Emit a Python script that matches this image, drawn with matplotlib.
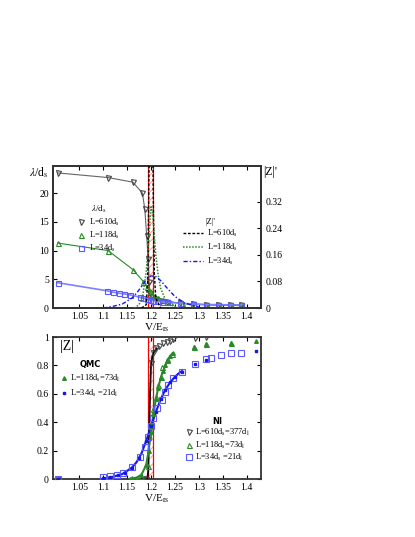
import numpy as np
import matplotlib
matplotlib.use("Agg")
import matplotlib.pyplot as plt
from matplotlib.lines import Line2D

plt.rcParams['font.family'] = ['Liberation Serif', 'DejaVu Serif']
plt.rcParams['mathtext.fontset'] = 'stix'
plt.rcParams['axes.linewidth'] = 1.3
plt.rcParams['axes.edgecolor'] = '#333333'
plt.rcParams['xtick.direction'] = 'in'
plt.rcParams['ytick.direction'] = 'in'
plt.rcParams['hatch.linewidth'] = 0.6

# ---- top panel: lambda/d_s (left axis) ----
v_lam610 = [1.005, 1.11, 1.162, 1.182, 1.187, 1.191, 1.194, 1.196, 1.198, 1.2, 1.21, 1.22, 1.233,
            1.26, 1.288, 1.316, 1.34, 1.365, 1.389]
lam610 = [23.5, 22.7, 21.9, 20.0, 17.2, 12.5, 8.5, 4.5, 2.6, 2.0, 1.6, 1.3, 1.1,
          0.85, 0.7, 0.6, 0.55, 0.55, 0.5]
v_lam118 = [1.005, 1.11, 1.162, 1.184, 1.191, 1.197, 1.203, 1.208, 1.215, 1.225, 1.24,
            1.265, 1.29, 1.315, 1.34, 1.365, 1.39]
lam118 = [11.3, 10.0, 6.7, 4.6, 3.7, 3.0, 2.4, 2.0, 1.7, 1.4, 1.1,
          0.8, 0.65, 0.55, 0.5, 0.45, 0.4]
v_lam34 = [1.005, 1.108, 1.12, 1.132, 1.144, 1.156, 1.176, 1.184, 1.191, 1.198, 1.205, 1.212,
           1.222, 1.233, 1.26, 1.288, 1.316, 1.34, 1.365, 1.389]
lam34 = [4.4, 3.0, 2.76, 2.6, 2.45, 2.3, 1.9, 1.7, 1.6, 1.4, 1.3, 1.2,
         1.1, 1.0, 0.85, 0.7, 0.6, 0.6, 0.55, 0.55]

# ---- top panel: |Z|' (right axis) ----
v_dz610 = [1.18, 1.19, 1.193, 1.195, 1.197, 1.2, 1.203, 1.205, 1.207, 1.21, 1.22]
dz610 = [0.0, 0.01, 0.08, 0.3, 0.6, 0.7, 0.6, 0.3, 0.1, 0.03, 0.0]
v_dz118 = [1.165, 1.175, 1.183, 1.19, 1.195, 1.198, 1.2, 1.203, 1.206, 1.21, 1.215, 1.22,
           1.23, 1.24, 1.26]
dz118 = [0.0, 0.01, 0.04, 0.11, 0.2, 0.27, 0.305, 0.29, 0.24, 0.16, 0.1, 0.06,
         0.025, 0.01, 0.0]
v_dz34 = [1.1, 1.12, 1.14, 1.16, 1.17, 1.18, 1.19, 1.2, 1.21, 1.22, 1.23, 1.24, 1.25, 1.27, 1.3]
dz34 = [0.0, 0.005, 0.012, 0.03, 0.045, 0.065, 0.085, 0.097, 0.095, 0.083, 0.066, 0.05,
        0.035, 0.015, 0.003]

# ---- bottom panel: |Z| ----
v_ni610 = [1.005, 1.183, 1.189, 1.197, 1.199, 1.205, 1.21, 1.217, 1.226, 1.233, 1.24, 1.246,
           1.292, 1.316]
z_ni610 = [0.0, 0.0, 0.0, 0.37, 0.815, 0.885, 0.92, 0.94, 0.955, 0.967, 0.972, 0.983,
           0.995, 0.998]
v_fit610 = [1.18, 1.192, 1.194, 1.196, 1.198, 1.2, 1.203, 1.207, 1.212]
z_fit610 = [0.0, 0.0, 0.05, 0.3, 0.6, 0.8, 0.87, 0.9, 0.92]

v_ni118 = [1.005, 1.156, 1.18, 1.193, 1.201, 1.205, 1.21, 1.215, 1.22, 1.224, 1.233, 1.243,
           1.29, 1.316, 1.367]
z_ni118 = [0.0, 0.0, 0.02, 0.09, 0.38, 0.49, 0.58, 0.66, 0.72, 0.79, 0.84, 0.88,
           0.93, 0.95, 0.955]
v_qmc118 = [1.005, 1.16, 1.17, 1.18, 1.19, 1.195, 1.2, 1.205, 1.21, 1.215, 1.22, 1.225,
            1.23, 1.235, 1.24, 1.245, 1.29, 1.316, 1.367, 1.419]
z_qmc118 = [0.0, 0.005, 0.01, 0.03, 0.1, 0.2, 0.33, 0.46, 0.56, 0.64, 0.71, 0.76,
            0.8, 0.84, 0.865, 0.885, 0.93, 0.95, 0.955, 0.97]
v_fit118 = [1.155, 1.17, 1.18, 1.19, 1.195, 1.2, 1.205, 1.21, 1.215, 1.22, 1.225, 1.23,
            1.235, 1.24, 1.245]
z_fit118 = [0.0, 0.01, 0.03, 0.1, 0.2, 0.33, 0.46, 0.56, 0.64, 0.71, 0.76, 0.8,
            0.84, 0.865, 0.885]

v_ni34 = [1.005, 1.1, 1.115, 1.128, 1.142, 1.16, 1.177, 1.1875, 1.194, 1.2, 1.205, 1.212,
          1.222, 1.229, 1.236, 1.245, 1.264, 1.292, 1.316, 1.326, 1.347, 1.368, 1.389]
z_ni34 = [0.0, 0.016, 0.02, 0.028, 0.04, 0.087, 0.157, 0.228, 0.298, 0.37, 0.427, 0.5,
          0.556, 0.615, 0.66, 0.71, 0.756, 0.807, 0.843, 0.85, 0.873, 0.885, 0.89]
v_qmc34 = [1.005, 1.1, 1.115, 1.13, 1.145, 1.16, 1.175, 1.19, 1.2, 1.21, 1.22, 1.23, 1.24,
           1.25, 1.264, 1.292, 1.316, 1.419]
z_qmc34 = [0.0, 0.005, 0.012, 0.025, 0.045, 0.08, 0.15, 0.27, 0.37, 0.47, 0.56, 0.63, 0.68,
           0.72, 0.755, 0.807, 0.84, 0.9]
v_fit34 = [1.1, 1.12, 1.14, 1.16, 1.17, 1.18, 1.19, 1.2, 1.21, 1.22, 1.23, 1.24, 1.25, 1.26, 1.265]
z_fit34 = [0.005, 0.015, 0.035, 0.08, 0.12, 0.18, 0.27, 0.37, 0.47, 0.56, 0.63, 0.68,
           0.72, 0.75, 0.76]

band = (1.193, 1.205)
xticks = [1.05, 1.1, 1.15, 1.2, 1.25, 1.3, 1.35, 1.4]
xticklabels = ['1.05', '1.1', '1.15', '1.2', '1.25', '1.3', '1.35', '1.4']

GREY = '#444444'
GREEN = '#2a8a2a'
BLUE = '#1515ee'
LBLUE = '#5a5aff'
TFS = 7
MS = 3.6

fig = plt.figure(figsize=(4.15, 5.37), dpi=100)
ax1 = fig.add_axes([0.1277, 0.4264, 0.5012, 0.2644])
ax2 = fig.add_axes([0.1277, 0.108, 0.5012, 0.2644])


def draw_band(ax):
    ax.axvspan(band[0], band[1], facecolor='white', edgecolor='#ff8a8a', hatch='////',
               linewidth=0, zorder=1)
    for b in band:
        ax.axvline(b, color='red', lw=0.9, zorder=1.5)


def style_x(ax):
    ax.set_xlim(0.995, 1.43)
    ax.set_xticks(xticks)
    ax.set_xticklabels(xticklabels)
    ax.tick_params(axis='both', labelsize=TFS, length=3, width=0.8, top=True, pad=3)
    ax.set_xlabel(r'V/E$_{\mathrm{rs}}$', fontsize=8, labelpad=0)


# ---- top panel ----
draw_band(ax1)
ax1.plot(v_lam610, lam610, '-', color='#666666', lw=0.8, marker='v', ms=MS, mfc='none',
         mec=GREY, mew=0.8, zorder=3)
ax1.plot(v_lam118, lam118, '-', color=GREEN, lw=0.8, marker='^', ms=MS, mfc='none',
         mec=GREEN, mew=0.8, zorder=3)
ax1.plot(v_lam34, lam34, '-', color='#8080ff', lw=1.2, marker='s', ms=MS, mfc='none',
         mec=LBLUE, mew=0.8, zorder=3)
ax1.set_ylim(0, 24.7)
ax1.set_yticks([0, 5, 10, 15, 20])
style_x(ax1)
ax1.tick_params(axis='y', right=False)
ax1.text(-0.02, 0.955, r'$\lambda$/d$_{\mathrm{s}}$', transform=ax1.transAxes,
         ha='right', va='center', fontsize=8.5)

h_lam = [Line2D([], [], ls='none', marker='v', ms=MS, mfc='none', mec=GREY, mew=0.8),
         Line2D([], [], ls='none', marker='^', ms=MS, mfc='none', mec=GREEN, mew=0.8),
         Line2D([], [], ls='none', marker='s', ms=MS, mfc='none', mec=LBLUE, mew=0.8)]
ax1.legend(h_lam, [r'L=610d$_{\mathrm{s}}$', r'L=118d$_{\mathrm{s}}$', r'L=34d$_{\mathrm{s}}$'],
           title=r'$\lambda$/d$_{\mathrm{s}}$', loc='upper left',
           bbox_to_anchor=(0.1, 0.76), frameon=False, fontsize=6,
           title_fontsize=6.5, handletextpad=0.4, labelspacing=0.25,
           borderaxespad=0, handlelength=1.0)

ax1r = ax1.twinx()
ax1r.plot(v_dz610, dz610, color='black', lw=1.0, ls=(0, (2, 1.2)), zorder=4)
ax1r.plot(v_dz118, dz118, color=GREEN, lw=1.1, ls=(0, (1, 1)), zorder=4)
ax1r.plot(v_dz34, dz34, color=BLUE, lw=1.0, ls=(0, (3, 1.5, 1, 1.5)), zorder=4)
ax1r.set_ylim(0, 0.428)
ax1r.set_yticks([0, 0.08, 0.16, 0.24, 0.32])
ax1r.set_yticklabels(['0', '0.08', '0.16', '0.24', '0.32'])
ax1r.tick_params(axis='y', labelsize=TFS, length=3, width=0.8, direction='in', pad=3)
ax1r.text(1.01, 0.955, "|Z|'", transform=ax1r.transAxes, ha='left', va='center',
          fontsize=8.5)

h_dz = [Line2D([], [], color='black', lw=1.0, ls=(0, (2, 1.2))),
        Line2D([], [], color=GREEN, lw=1.1, ls=(0, (1, 1))),
        Line2D([], [], color=BLUE, lw=1.0, ls=(0, (3, 1.5, 1, 1.5)))]
ax1r.legend(h_dz, [r'L=610d$_{\mathrm{s}}$', r'L=118d$_{\mathrm{s}}$', r'L=34d$_{\mathrm{s}}$'],
            title="|Z|'", loc='upper left', bbox_to_anchor=(0.61, 0.66), frameon=False,
            fontsize=6, title_fontsize=6, handletextpad=0.4, labelspacing=0.3,
            borderaxespad=0, handlelength=2.4)

# ---- bottom panel ----
draw_band(ax2)
ax2.plot(v_fit610, z_fit610, '-', color='black', lw=1.3, zorder=3)
ax2.plot(v_fit118, z_fit118, '-', color=GREEN, lw=1.5, zorder=3)
ax2.plot(v_fit34, z_fit34, '-', color=BLUE, lw=1.5, zorder=3)
ax2.plot(v_ni610, z_ni610, ls='none', marker='v', ms=MS, mfc='none', mec=GREY, mew=0.8,
         zorder=4)
ax2.plot(v_ni118, z_ni118, ls='none', marker='^', ms=MS, mfc='none', mec=GREEN, mew=0.8,
         zorder=4)
ax2.plot(v_ni34, z_ni34, ls='none', marker='s', ms=MS + 0.4, mfc='none', mec=LBLUE, mew=0.8,
         zorder=4)
ax2.plot(v_qmc118, z_qmc118, ls='none', marker='^', ms=2.6, color=GREEN, zorder=5)
ax2.plot(v_qmc34, z_qmc34, ls='none', marker='s', ms=2.0, color=BLUE, zorder=5)
ax2.set_ylim(0, 1)
ax2.set_yticks([0, 0.2, 0.4, 0.6, 0.8, 1])
ax2.set_yticklabels(['0', '0.2', '0.4', '0.6', '0.8', '1'])
style_x(ax2)
ax2.tick_params(axis='y', right=True)
ax2.text(0.035, 0.93, '|Z|', transform=ax2.transAxes, ha='left', va='center', fontsize=10)

h_qmc = [Line2D([], [], ls='none', marker='^', ms=2.6, color=GREEN),
         Line2D([], [], ls='none', marker='s', ms=2.0, color=BLUE)]
leg_q = ax2.legend(h_qmc, [r'L=118d$_{\mathrm{s}}$=73d$_{\mathrm{l}}$',
                           r'L=34d$_{\mathrm{s}}$ =21d$_{\mathrm{l}}$'],
                   title='QMC', loc='upper left', bbox_to_anchor=(0.02, 0.86), frameon=False,
                   fontsize=6, handletextpad=0.3, labelspacing=0.45, borderaxespad=0,
                   handlelength=0.8,
                   title_fontproperties={'family': 'DejaVu Sans', 'weight': 'bold', 'size': 6})
ax2.add_artist(leg_q)
h_ni = [Line2D([], [], ls='none', marker='v', ms=MS, mfc='none', mec=GREY, mew=0.8),
        Line2D([], [], ls='none', marker='^', ms=MS, mfc='none', mec=GREEN, mew=0.8),
        Line2D([], [], ls='none', marker='s', ms=MS + 0.4, mfc='none', mec=LBLUE, mew=0.8)]
ax2.legend(h_ni, [r'L=610d$_{\mathrm{s}}$=377d$_{\mathrm{l}}$',
                  r'L=118d$_{\mathrm{s}}$=73d$_{\mathrm{l}}$',
                  r'L=34d$_{\mathrm{s}}$ =21d$_{\mathrm{l}}$'],
           title='NI', loc='upper left', bbox_to_anchor=(0.62, 0.46), frameon=False,
           fontsize=6, handletextpad=0.3, labelspacing=0.15, borderaxespad=0,
           handlelength=0.9,
           title_fontproperties={'family': 'DejaVu Sans', 'weight': 'bold', 'size': 6})

fig.savefig('out.png', dpi=100)
